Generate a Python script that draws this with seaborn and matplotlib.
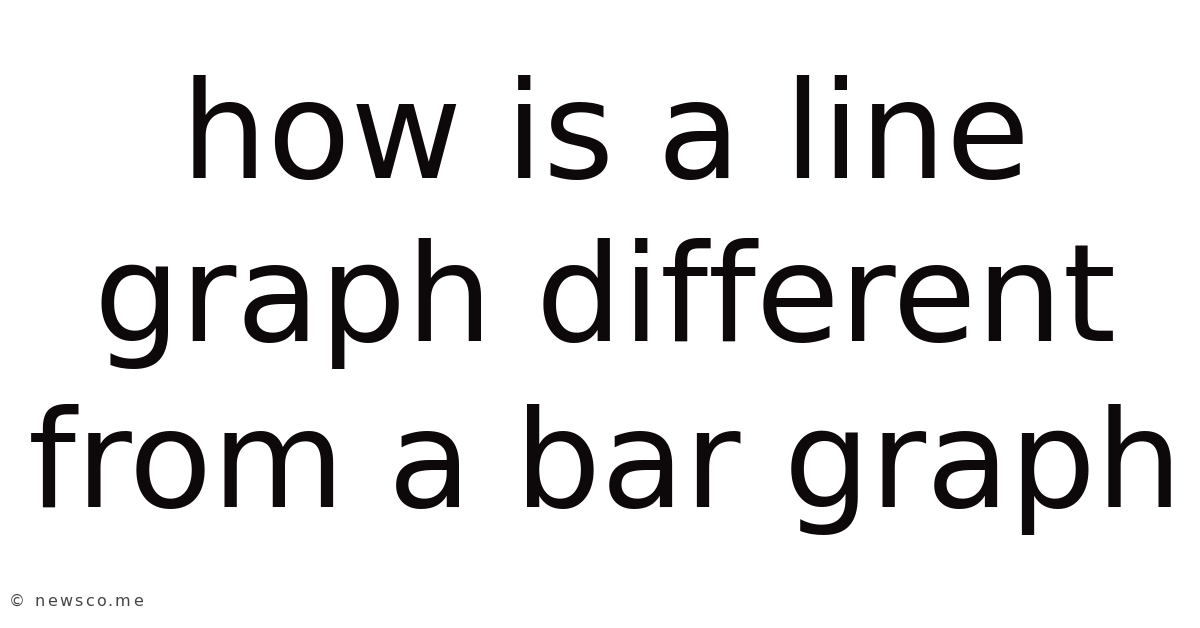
import matplotlib
matplotlib.use("Agg")
import matplotlib.pyplot as plt
import seaborn as sns

# title text, one entry per line, and the small credit at the bottom
lines = ["how is a line", "graph different", "from a bar graph"]
baselines = [178, 341, 507]  # pixel rows of each baseline
credit = "© newsco.me"

sns.set_theme(style="white")
plt.rcParams['font.family'] = ['DejaVu Sans']

fig = plt.figure(figsize=(12, 6.28), dpi=100)
fig.patch.set_facecolor("white")
ax = fig.add_axes([0, 0, 1, 1])
ax.set_axis_off()

H = 628
for txt, yb in zip(lines, baselines):
    fig.text(0.5045, 1 - yb / H, txt, ha="center", va="baseline",
             fontsize=98, color="#0d0809")

# credit is drawn a bit wider in the original, so space the letters out
x = 9
for ch in credit:
    t = fig.text(x / 1200, 1 - 606 / H, ch, ha="left", va="baseline",
                 fontsize=11.5, color="#444444")
    w = t.get_window_extent(renderer=fig.canvas.get_renderer()).width
    if ch == " ":
        w = 5
    x += w + 2.2

fig.savefig("out.png", dpi=100, facecolor="white")
